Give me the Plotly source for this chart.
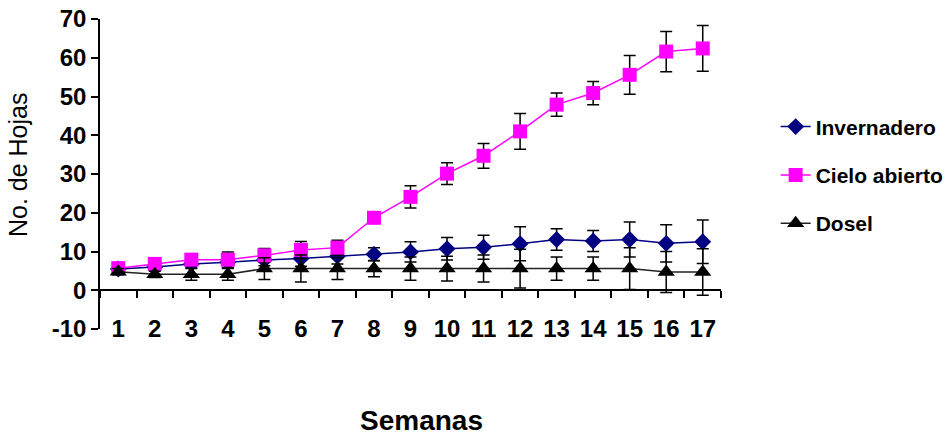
import plotly.graph_objects as go

weeks = list(range(1, 18))
tick_labels = [str(w) for w in weeks]
y_ticks = [-10, 0, 10, 20, 30, 40, 50, 60, 70]
y_tick_labels = ["-10", "0", "10", "20", "30", "40", "50", "60", "70"]

invernadero = [5.5, 6.0, 6.8, 7.2, 7.8, 8.2, 8.8, 9.3, 9.9, 10.7, 11.1, 12.0, 13.1, 12.7, 13.1, 12.1, 12.5]
invernadero_err = [0.8, 0.8, 1.0, 1.5, 1.5, 2.0, 2.0, 1.7, 2.6, 2.9, 3.1, 4.4, 2.8, 2.7, 4.5, 4.8, 5.6]
cielo = [5.7, 6.8, 7.9, 7.9, 9.0, 10.4, 11.0, 18.7, 24.1, 30.1, 34.7, 41.0, 47.9, 50.9, 55.6, 61.6, 62.4]
cielo_err = [1.0, 0.8, 1.0, 2.0, 1.8, 2.2, 1.9, 1.0, 2.9, 2.8, 3.2, 4.6, 3.0, 3.0, 5.0, 5.2, 5.9]
dosel = [4.8, 4.1, 4.1, 4.1, 5.6, 5.6, 5.6, 5.6, 5.6, 5.6, 5.6, 5.6, 5.6, 5.6, 5.6, 4.7, 4.7]
dosel_err = [0.8, 0.8, 1.5, 1.5, 2.8, 3.5, 2.8, 2.1, 3.0, 3.2, 3.5, 5.0, 3.0, 3.0, 5.4, 5.3, 6.0]

FONT = "Arial, Liberation Sans, sans-serif"

def err(vals):
    return dict(type="data", array=vals, visible=True, color="black",
                thickness=1.5, width=6)

fig = go.Figure()
fig.add_trace(go.Scatter(
    x=weeks, y=invernadero, name="Invernadero", mode="lines+markers",
    line=dict(color="#000080", width=1.5),
    marker=dict(symbol="diamond", size=13, color="#000080"),
    error_y=err(invernadero_err), legendgroup="a"))
fig.add_trace(go.Scatter(
    x=weeks, y=cielo, name="Cielo abierto", mode="lines+markers",
    line=dict(color="#FF00FF", width=1.5),
    marker=dict(symbol="square", size=14, color="#FF00FF"),
    error_y=err(cielo_err), legendgroup="b"))
fig.add_trace(go.Scatter(
    x=weeks, y=dosel, name="Dosel", mode="lines+markers",
    line=dict(color="#222222", width=1.5),
    marker=dict(symbol="triangle-up", size=15, color="black"),
    error_y=err(dosel_err), legendgroup="c"))
# invisible trace to carry the zero-line x axis
fig.add_trace(go.Scatter(x=[weeks[0]], y=[0], xaxis="x2", mode="markers",
                         marker=dict(opacity=0), showlegend=False, hoverinfo="skip"))

boundaries = [w - 0.5 for w in weeks] + [weeks[-1] + 0.5]

fig.update_layout(
    width=951, height=437,
    margin=dict(l=100, r=230, t=19, b=108, autoexpand=False),
    paper_bgcolor="white", plot_bgcolor="white",
    font=dict(family=FONT, color="black"),
    showlegend=True,
    legend=dict(x=1.088, xanchor="left", y=0.497, yanchor="middle",
                font=dict(family=FONT, size=21, weight="bold", color="black"),
                tracegroupgap=18, bgcolor="rgba(0,0,0,0)"),
    xaxis=dict(range=[0.5, 17.5], tickmode="array", tickvals=weeks, ticktext=tick_labels,
               showline=False, showgrid=False, zeroline=False, ticks="",
               anchor="free", position=0.055, automargin=False,
               tickfont=dict(family=FONT, size=24, weight="bold", color="black")),
    xaxis2=dict(range=[0.5, 17.5], overlaying="x", anchor="free", position=0.125,
                showline=True, linecolor="black", linewidth=1.5,
                tickmode="array", tickvals=boundaries, ticks="outside", ticklen=7,
                tickcolor="black", tickwidth=1.5, showticklabels=False,
                showgrid=False, zeroline=False, automargin=False),
    yaxis=dict(range=[-10, 70], tickmode="array", tickvals=y_ticks, ticktext=y_tick_labels,
               showline=True, linecolor="black", automargin=False,
               linewidth=1.5, ticks="outside", ticklen=7, tickcolor="black", tickwidth=1.5,
               showgrid=False, zeroline=False,
               tickfont=dict(family=FONT, size=24, weight="bold", color="black")),
    annotations=[
        dict(text="No. de Hojas", xref="paper", yref="paper", x=-0.132, y=0.529,
             xanchor="center", yanchor="middle", textangle=-90, showarrow=False,
             font=dict(family=FONT, size=25, color="black")),
        dict(text="Semanas", xref="paper", yref="paper", x=0.517, y=-0.294,
             xanchor="center", yanchor="middle", showarrow=False,
             font=dict(family=FONT, size=28, weight="bold", color="black")),
    ],
)

fig.write_html("out.html", config={"displayModeBar": False},
               post_script="document.body.style.margin='0';")
